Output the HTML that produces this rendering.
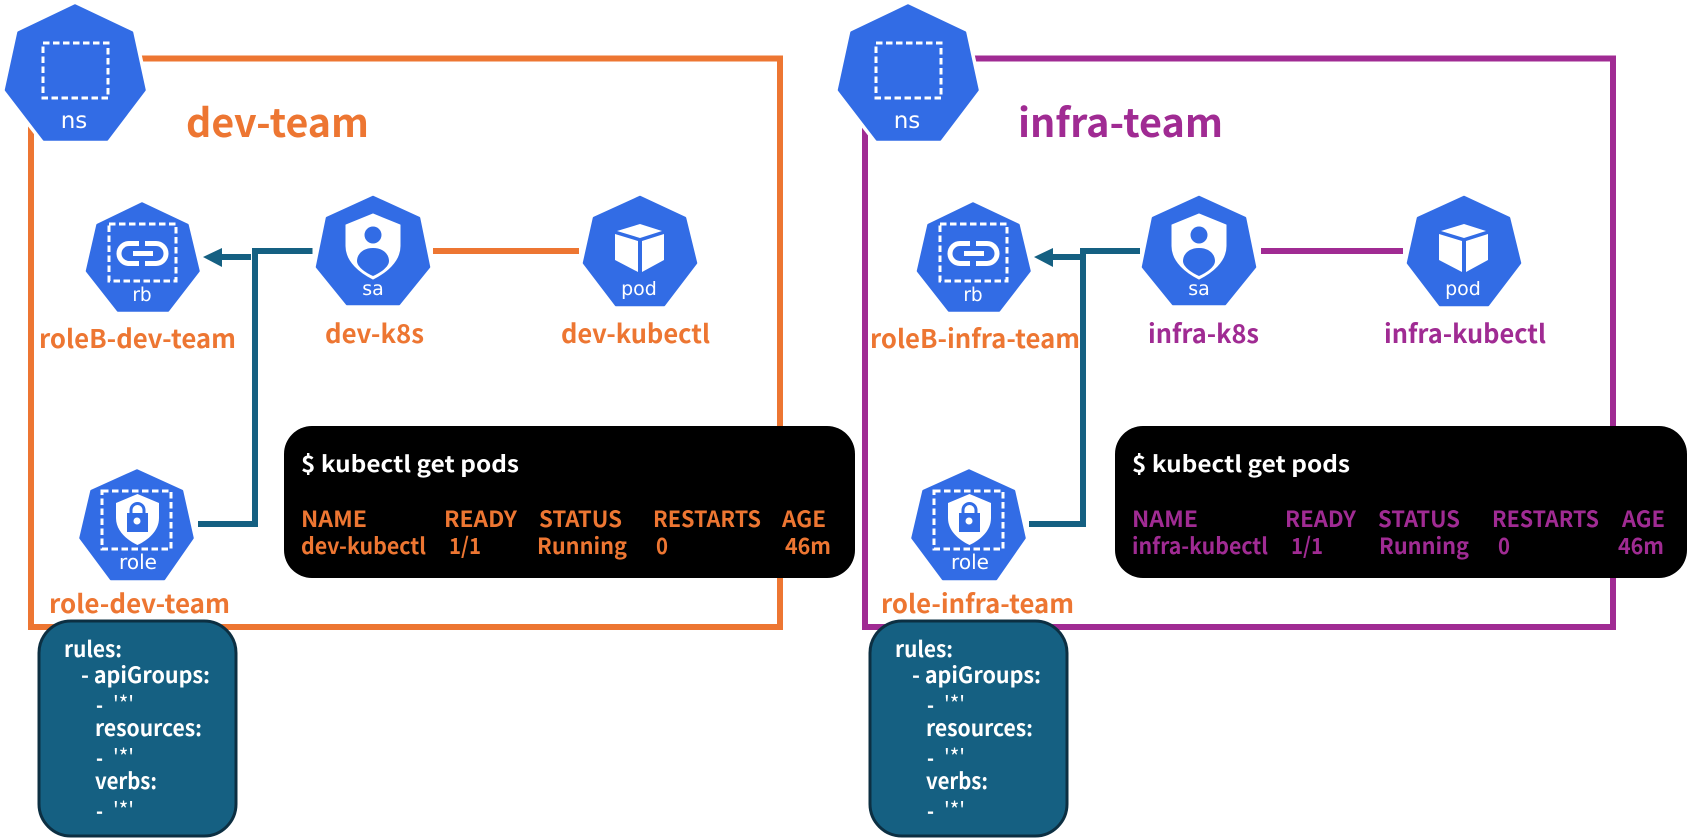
<!DOCTYPE html>
<html><head><meta charset="utf-8"><style>
html,body{margin:0;padding:0;background:#fff}
svg{display:block}
text{font-family:"Noto Sans CJK KR","Liberation Sans",sans-serif;font-weight:700}
.i{font-family:"DejaVu Sans",sans-serif;font-weight:400;fill:#fff;text-anchor:middle}
.o{fill:#ED7632}.p{fill:#A02B93}.w{fill:#fff}
.t{font-size:39px}.l{font-size:25.5px}.k{font-size:22.5px}.y{font-size:22px}
.d{fill:none;stroke:#fff;stroke-width:3;stroke-dasharray:6.5 3.5}
</style></head><body>
<svg width="1700" height="838" viewBox="0 0 1700 838" xmlns="http://www.w3.org/2000/svg">
<defs>
<g id="ns"><polygon points="75,4 133,32 146,90 108,140 43,140 4,90 17,32" fill="#fff" stroke="#fff" stroke-width="7" stroke-linejoin="round"/><polygon points="75,5.500 132,32.500 144.500,90 107,139.500 44,139.500 6,90 18.500,32.500" fill="#326CE5" stroke="#326CE5" stroke-width="2.500" stroke-linejoin="round"/><rect x="43" y="43" width="65" height="55" class="d"/></g>
<g id="rb"><polygon points="142,203.500 187.500,225 198.500,271 168,310.500 118,310.500 87,271 97.500,225" fill="#326CE5" stroke="#326CE5" stroke-width="2.500" stroke-linejoin="round"/><rect x="109" y="224" width="67" height="57" class="d"/><path d="M139,243.500h-10a10,10 0 0 0 0,20h10M145,243.500h11a10,10 0 0 1 0,20h-11" fill="none" stroke="#fff" stroke-width="5"/><rect x="133" y="251" width="20" height="5" fill="#fff"/></g>
<g id="sa"><polygon points="373,197 419,218 429,267 399,304 347,304 317,267 327,218" fill="#326CE5" stroke="#326CE5" stroke-width="2.500" stroke-linejoin="round"/><path d="M373,214L400,225V246C400,262 385,273 373,279C361,273 346,262 346,246V225Z" fill="#fff" stroke="#fff" stroke-width="1" stroke-linejoin="round"/><circle cx="373" cy="235" r="8.500" fill="#326CE5"/><path d="M373,248C384,248 389,255 389,261C389,267 380,273 373,276C366,273 357,267 357,261C357,255 362,248 373,248Z" fill="#326CE5"/></g>
<g id="pod"><polygon points="640,197 685,218 696,263 664,305 616,305 584,263 594,218" fill="#326CE5" stroke="#326CE5" stroke-width="2.500" stroke-linejoin="round"/><path d="M640,224L662,231L640,238L617,231ZM615,234L638,241V272L615,260ZM642,241L664,234V260L642,272Z" fill="#fff"/></g>
<g id="role"><polygon points="137,470.500 182,491 192.500,538 164,579 111,579 80.500,538 91.500,491" fill="#326CE5" stroke="#326CE5" stroke-width="2.500" stroke-linejoin="round"/><rect x="102" y="491" width="69" height="58" class="d"/><path d="M137.500,494L159,503V518C159,531 148,540 137.500,545C127,540 116,531 116,518V503Z" fill="#fff"/><rect x="127" y="513" width="21" height="19" fill="#326CE5"/><path d="M131,514V510a6.500,6.500 0 0 1 13,0V514" fill="none" stroke="#326CE5" stroke-width="3"/><circle cx="137" cy="521" r="3.500" fill="#fff"/></g>
</defs>

<!-- frames -->
<rect x="31" y="58.500" width="749" height="568.500" fill="none" stroke="#ED7632" stroke-width="6"/>
<rect x="865" y="58.500" width="748" height="568.500" fill="none" stroke="#A02B93" stroke-width="6"/>

<!-- left team -->
<use href="#ns"/>
<text class="i" x="74" y="128" style="font-size:23px">ns</text>
<text class="o t" x="186" y="137" textLength="183" lengthAdjust="spacingAndGlyphs">dev-team</text>

<use href="#rb"/>
<text class="i" x="142" y="301" style="font-size:18.500px">rb</text>
<use href="#sa"/>
<text class="i" x="373" y="295" style="font-size:19px">sa</text>
<use href="#pod"/>
<text class="i" x="639" y="295" style="font-size:19px">pod</text>
<use href="#role"/>
<text class="i" x="138" y="569" style="font-size:20px">role</text>

<path d="M312.500,251H255V524H198" fill="none" stroke="#156082" stroke-width="6"/>
<rect x="220" y="254" width="31" height="6" fill="#156082"/>
<polygon points="203,257 222,248 222,267" fill="#156082"/>
<rect x="433" y="248" width="146" height="6" fill="#ED7632"/>

<text class="o l" x="39" y="348" textLength="197" lengthAdjust="spacingAndGlyphs">roleB-dev-team</text>
<text class="o l" x="325" y="343" textLength="99" lengthAdjust="spacingAndGlyphs">dev-k8s</text>
<text class="o l" x="561" y="343" textLength="149" lengthAdjust="spacingAndGlyphs">dev-kubectl</text>
<text class="o l" x="49" y="613" textLength="181" lengthAdjust="spacingAndGlyphs">role-dev-team</text>

<rect x="284" y="426" width="571" height="152" rx="28" fill="#000"/>
<text class="w k" x="301" y="472" textLength="218" lengthAdjust="spacingAndGlyphs">$ kubectl get pods</text>
<text class="o k" x="301" y="527" textLength="66" lengthAdjust="spacingAndGlyphs">NAME</text>
<text class="o k" x="444" y="527" textLength="73" lengthAdjust="spacingAndGlyphs">READY</text>
<text class="o k" x="539" y="527" textLength="83" lengthAdjust="spacingAndGlyphs">STATUS</text>
<text class="o k" x="653" y="527" textLength="108" lengthAdjust="spacingAndGlyphs">RESTARTS</text>
<text class="o k" x="782" y="527" textLength="44" lengthAdjust="spacingAndGlyphs">AGE</text>
<text class="o k" x="301" y="554" textLength="125" lengthAdjust="spacingAndGlyphs">dev-kubectl</text>
<text class="o k" x="449" y="554" textLength="32" lengthAdjust="spacingAndGlyphs">1/1</text>
<text class="o k" x="537" y="554" textLength="90" lengthAdjust="spacingAndGlyphs">Running</text>
<text class="o k" x="656" y="554" textLength="12" lengthAdjust="spacingAndGlyphs">0</text>
<text class="o k" x="785" y="554" textLength="46" lengthAdjust="spacingAndGlyphs">46m</text>

<rect x="39" y="621" width="197" height="215" rx="32" fill="#156082" stroke="#0C2F42" stroke-width="3"/>
<text class="w y" x="64" y="657" textLength="58" lengthAdjust="spacingAndGlyphs">rules:</text>
<text class="w y" x="81" y="683" textLength="129" lengthAdjust="spacingAndGlyphs">- apiGroups:</text>
<text class="w y" x="96" y="713" textLength="7" lengthAdjust="spacingAndGlyphs">-</text><text class="w y" x="113" y="712" textLength="21" lengthAdjust="spacingAndGlyphs" style="font-weight:400">'*'</text>
<text class="w y" x="95" y="736" textLength="107" lengthAdjust="spacingAndGlyphs">resources:</text>
<text class="w y" x="96" y="766" textLength="7" lengthAdjust="spacingAndGlyphs">-</text><text class="w y" x="113" y="765" textLength="21" lengthAdjust="spacingAndGlyphs" style="font-weight:400">'*'</text>
<text class="w y" x="95" y="789" textLength="62" lengthAdjust="spacingAndGlyphs">verbs:</text>
<text class="w y" x="96" y="819" textLength="7" lengthAdjust="spacingAndGlyphs">-</text><text class="w y" x="113" y="818" textLength="21" lengthAdjust="spacingAndGlyphs" style="font-weight:400">'*'</text>

<!-- right team -->
<use href="#ns" x="833"/>
<text class="i" x="907" y="128" style="font-size:23px">ns</text>
<text class="p t" x="1018" y="137" textLength="205" lengthAdjust="spacingAndGlyphs">infra-team</text>

<use href="#rb" x="831"/>
<text class="i" x="973" y="301" style="font-size:18.500px">rb</text>
<use href="#sa" x="826"/>
<text class="i" x="1199" y="295" style="font-size:19px">sa</text>
<use href="#pod" x="824"/>
<text class="i" x="1463" y="295" style="font-size:19px">pod</text>
<use href="#role" x="832"/>
<text class="i" x="970" y="569" style="font-size:20px">role</text>

<path d="M1140,251H1083V524H1029" fill="none" stroke="#156082" stroke-width="6"/>
<rect x="1051" y="254" width="29" height="6" fill="#156082"/>
<polygon points="1034,257 1053,248 1053,267" fill="#156082"/>
<rect x="1261" y="248" width="142" height="6" fill="#A02B93"/>

<text class="o l" x="870" y="348" textLength="210" lengthAdjust="spacingAndGlyphs">roleB-infra-team</text>
<text class="p l" x="1148" y="343" textLength="111" lengthAdjust="spacingAndGlyphs">infra-k8s</text>
<text class="p l" x="1384" y="343" textLength="162" lengthAdjust="spacingAndGlyphs">infra-kubectl</text>
<text class="o l" x="881" y="613" textLength="193" lengthAdjust="spacingAndGlyphs">role-infra-team</text>

<rect x="1115" y="426" width="572" height="152" rx="28" fill="#000"/>
<text class="w k" x="1132" y="472" textLength="218" lengthAdjust="spacingAndGlyphs">$ kubectl get pods</text>
<text class="p k" x="1132" y="527" textLength="66" lengthAdjust="spacingAndGlyphs">NAME</text>
<text class="p k" x="1285" y="527" textLength="71" lengthAdjust="spacingAndGlyphs">READY</text>
<text class="p k" x="1378" y="527" textLength="82" lengthAdjust="spacingAndGlyphs">STATUS</text>
<text class="p k" x="1492" y="527" textLength="107" lengthAdjust="spacingAndGlyphs">RESTARTS</text>
<text class="p k" x="1622" y="527" textLength="43" lengthAdjust="spacingAndGlyphs">AGE</text>
<text class="p k" x="1132" y="554" textLength="136" lengthAdjust="spacingAndGlyphs">infra-kubectl</text>
<text class="p k" x="1291" y="554" textLength="32" lengthAdjust="spacingAndGlyphs">1/1</text>
<text class="p k" x="1379" y="554" textLength="90" lengthAdjust="spacingAndGlyphs">Running</text>
<text class="p k" x="1498" y="554" textLength="12" lengthAdjust="spacingAndGlyphs">0</text>
<text class="p k" x="1618" y="554" textLength="46" lengthAdjust="spacingAndGlyphs">46m</text>

<rect x="870" y="621" width="197" height="215" rx="32" fill="#156082" stroke="#0C2F42" stroke-width="3"/>
<text class="w y" x="895" y="657" textLength="58" lengthAdjust="spacingAndGlyphs">rules:</text>
<text class="w y" x="912" y="683" textLength="129" lengthAdjust="spacingAndGlyphs">- apiGroups:</text>
<text class="w y" x="927" y="713" textLength="7" lengthAdjust="spacingAndGlyphs">-</text><text class="w y" x="944" y="712" textLength="21" lengthAdjust="spacingAndGlyphs" style="font-weight:400">'*'</text>
<text class="w y" x="926" y="736" textLength="107" lengthAdjust="spacingAndGlyphs">resources:</text>
<text class="w y" x="927" y="766" textLength="7" lengthAdjust="spacingAndGlyphs">-</text><text class="w y" x="944" y="765" textLength="21" lengthAdjust="spacingAndGlyphs" style="font-weight:400">'*'</text>
<text class="w y" x="926" y="789" textLength="62" lengthAdjust="spacingAndGlyphs">verbs:</text>
<text class="w y" x="927" y="819" textLength="7" lengthAdjust="spacingAndGlyphs">-</text><text class="w y" x="944" y="818" textLength="21" lengthAdjust="spacingAndGlyphs" style="font-weight:400">'*'</text>
</svg>
</body></html>
